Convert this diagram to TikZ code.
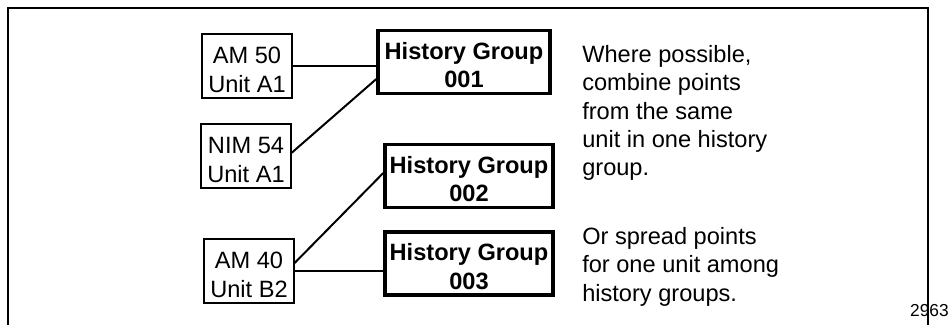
\documentclass[tikz,border=0pt]{standalone}
\usepackage{fontspec}
\setmainfont{Liberation Sans}

\begin{document}
\begin{tikzpicture}[x=0.75pt, y=-0.75pt,
		box/.style={draw, inner sep=0pt, align=center, font=\fontsize{17.7}{21.3}\selectfont},
		unitbox/.style={box, line width=1.5pt, minimum width=67pt, minimum height=48pt, execute at begin node={\rule{0pt}{39.5pt}}},
		groupbox/.style={box, line width=2.6pt, minimum width=126pt, minimum height=47pt, font=\fontsize{17.7}{21.3}\selectfont\bfseries, execute at begin node={\rule{0pt}{38.5pt}}},
		note/.style={anchor=north west, inner sep=0pt, align=left, font=\fontsize{17.7}{21.3}\selectfont},
		wire/.style={line width=1.5pt}]
		\useasboundingbox (0,0) rectangle (951,325);

		% open frame
		\draw[line width=1.5pt] (8,325) -- (8,8) -- (928,8) -- (928,325);
		\node [anchor=base east, inner sep=0pt, font=\fontsize{13}{15}\selectfont] at (949,316) (fig) {2963};

		\node [unitbox] at (247,66) (am50) {AM 50\\Unit A1};
		\node [unitbox] at (246,156) (nim54) {NIM 54\\Unit A1};
		\node [unitbox] at (249,271) (am40) {AM 40\\Unit B2};

		\node [groupbox, minimum width=129pt] at (464,62) (hg1) {History Group\\001};
		\node [groupbox] at (469,176) (hg2) {History Group\\002};
		\node [groupbox] at (469,263.5) (hg3) {History Group\\003};

		\draw [wire] (am50.east) -- (am50.east -| hg1.west);
		\draw [wire] (nim54.4) -- (hg1.191);
		\draw [wire] (am40.10) -- (hg2.178);
		\draw [wire] (am40.east) -- (am40.east -| hg3.west);

		\node [note] at (582,45) (combine) {Where possible,\\combine points\\from the same\\unit in one history\\group.};
		\node [note] at (582,227) (spread) {Or spread points\\for one unit among\\history groups.};
	\end{tikzpicture}
\end{document}
